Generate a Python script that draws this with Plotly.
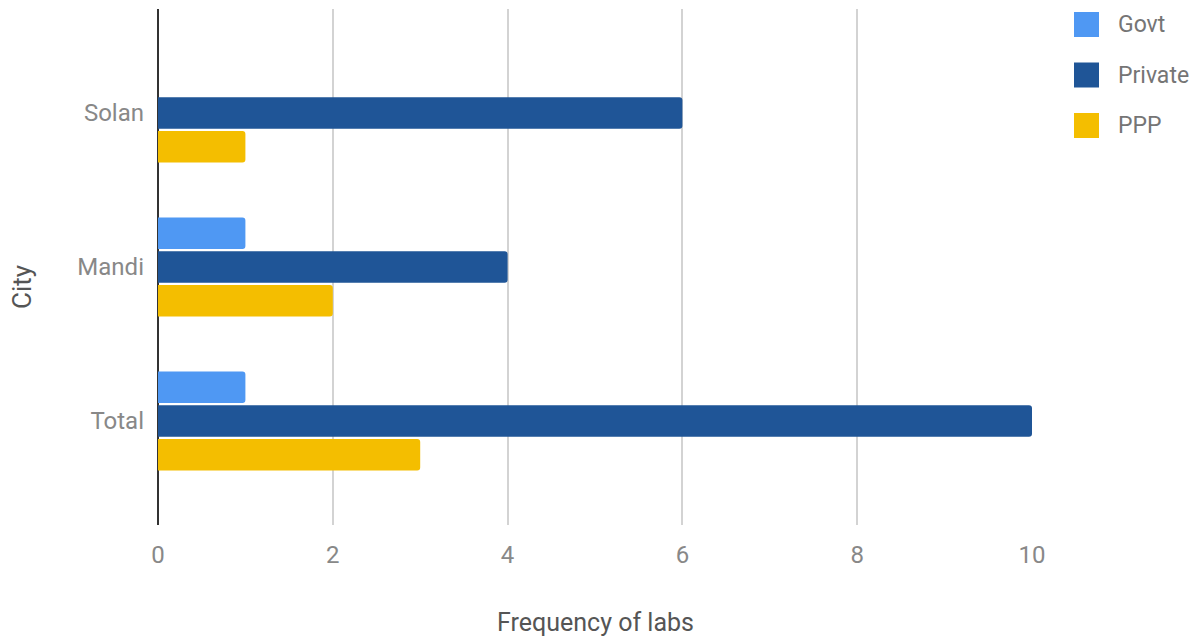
import plotly.graph_objects as go

# Lab counts per city, by ownership type
cities = ["Solan", "Mandi", "Total"]
govt = [0, 1, 1]
private = [6, 4, 10]
ppp = [1, 2, 3]

series_names = ["Govt", "Private", "PPP"]
series_colors = ["#4F98F3", "#1F5597", "#F4BE00"]
x_ticks = [0, 2, 4, 6, 8, 10]

series_values = [govt, private, ppp]

fig = go.Figure()
# Plotly stacks grouped horizontal bars bottom-up, so add in reverse to put Govt on top
for name, vals, color in reversed(list(zip(series_names, series_values, series_colors))):
    fig.add_trace(go.Bar(
        y=cities, x=vals, name=name, orientation="h",
        marker=dict(color=color, line=dict(width=0)),
        showlegend=False,
    ))

# Plot area in pixels (used for placing the legend keys outside the plot)
W, H = 1195, 638
L, R, T, B = 158, 163, 9, 113
pw, ph = W - L - R, H - T - B

def px_to_paper(x, y):
    return (x - L) / pw, (H - B - y) / ph

shapes, annotations = [], []
for i, (name, color) in enumerate(zip(series_names, series_colors)):
    cy = 24.5 + i * 50.5
    x0, y0 = px_to_paper(1074, cy - 12.5)
    x1, y1 = px_to_paper(1099, cy + 12.5)
    shapes.append(dict(type="rect", xref="paper", yref="paper",
                       x0=x0, x1=x1, y0=y1, y1=y0,
                       fillcolor=color, line=dict(width=0), layer="above"))
    tx, ty = px_to_paper(1116, cy)
    annotations.append(dict(text=name, xref="paper", yref="paper", x=tx, y=ty,
                            xanchor="left", yanchor="middle", showarrow=False,
                            font=dict(family="Roboto", size=23, color="#757575")))

# Axis titles
ax_x, ax_y = px_to_paper(595, 622)
annotations.append(dict(text="Frequency of labs", xref="paper", yref="paper",
                        x=ax_x, y=ax_y, xanchor="center", yanchor="middle",
                        showarrow=False,
                        font=dict(family="Roboto", size=25, color="#555555")))
ay_x, ay_y = px_to_paper(22, 287)
annotations.append(dict(text="City", xref="paper", yref="paper",
                        x=ay_x, y=ay_y, xanchor="center", yanchor="middle",
                        textangle=-90, showarrow=False,
                        font=dict(family="Roboto", size=26, color="#555555")))

fig.update_layout(
    width=W, height=H,
    margin=dict(l=L, r=R, t=T, b=B),
    paper_bgcolor="white", plot_bgcolor="white",
    barmode="group", bargap=0.344, bargroupgap=0.065,
    barcornerradius=3,
    font=dict(family="Roboto", size=23, color="#757575"),
    shapes=shapes, annotations=annotations,
    showlegend=False,
    xaxis=dict(
        range=[0, 10], tickvals=x_ticks, ticks="", ticklabelstandoff=13,
        showgrid=True, gridcolor="#D3D3D3", gridwidth=2,
        zeroline=True, zerolinecolor="#333333", zerolinewidth=2,
        tickfont=dict(family="Roboto", size=24, color="#888888"),
    ),
    yaxis=dict(
        type="category", categoryorder="array", categoryarray=cities[::-1],
        range=[-0.675, 2.675], showgrid=False, zeroline=False,
        ticks="", ticklabelstandoff=13,
        tickfont=dict(family="Roboto", size=24, color="#888888"),
    ),
)

fig.write_html("out.html")
